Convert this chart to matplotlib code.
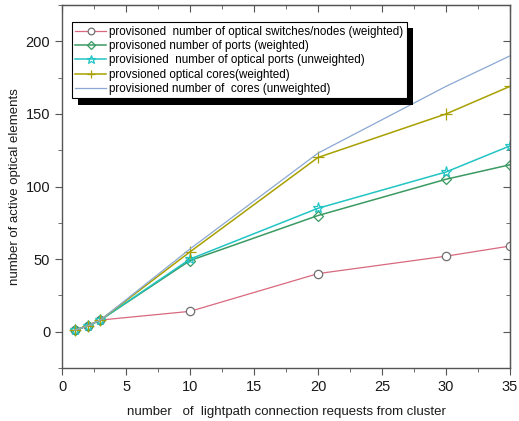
import matplotlib.pyplot as plt
from matplotlib.patches import Shadow
from matplotlib.ticker import MultipleLocator

plt.rcParams['font.family'] = ['Liberation Sans', 'DejaVu Sans']

requests = [1, 2, 3, 10, 20, 30, 35]
switches_w = [1, 4, 8, 14, 40, 52, 59]
ports_w = [1, 4, 8, 49, 80, 105, 115]
ports_uw = [1, 4, 8, 50, 85, 110, 128]
cores_w = [1, 4, 8, 55, 120, 150, 169]
cores_uw = [1, 4, 8, 57, 123, 169, 190]

labels = [
    'provisoned  number of optical switches/nodes (weighted)',
    'provisoned number of ports (weighted)',
    'provisioned  number of optical ports (unweighted)',
    'provsioned optical cores(weighted)',
    'provisioned number of  cores (unweighted)',
]

fig = plt.figure(figsize=(5.19, 4.21), dpi=100)
ax = fig.add_axes([0.1195, 0.126, 0.8632, 0.862])

ax.plot(requests, switches_w, color='#d8687e', lw=0.9, marker='o', ms=6,
        mfc='white', mec='#707070', mew=0.9, label=labels[0])
ax.plot(requests, ports_w, color='#3a9a62', lw=1.1, marker='D', ms=5,
        mfc='none', mec='#3a9a62', mew=0.9, label=labels[1])
ax.plot(requests, ports_uw, color='#22c4c4', lw=1.1, marker='*', ms=8,
        mfc='none', mec='#22c4c4', mew=0.9, label=labels[2])
ax.plot(requests, cores_w, color='#a8a000', lw=1.1, marker='+', ms=8,
        mec='#a8a000', mew=0.9, label=labels[3])
ax.plot(requests, cores_uw, color='#8aa8d4', lw=0.9, label=labels[4])

ax.set_xlim(0, 35)
ax.set_ylim(-25, 225)
ax.xaxis.set_major_locator(MultipleLocator(5))
ax.xaxis.set_minor_locator(MultipleLocator(2.5))
ax.yaxis.set_major_locator(MultipleLocator(50))
ax.yaxis.set_minor_locator(MultipleLocator(25))

gray = '#555555'
for s in ax.spines.values():
    s.set_color(gray)
    s.set_linewidth(1.0)
ax.tick_params(which='both', direction='out', color=gray, labelcolor='#1a1a1a',
               labelsize=10.5)
ax.tick_params(which='major', length=5)
ax.tick_params(which='minor', length=3)

# inward ticks on top and right
top = ax.secondary_xaxis('top')
top.xaxis.set_major_locator(MultipleLocator(5))
top.xaxis.set_minor_locator(MultipleLocator(2.5))
top.tick_params(which='both', direction='in', labeltop=False, color=gray)
top.tick_params(which='major', length=5)
top.tick_params(which='minor', length=3)
right = ax.secondary_yaxis('right')
right.yaxis.set_major_locator(MultipleLocator(50))
right.yaxis.set_minor_locator(MultipleLocator(25))
right.tick_params(which='both', direction='in', labelright=False, color=gray)
right.tick_params(which='major', length=5)
right.tick_params(which='minor', length=3)
for sax in (top, right):
    for s in sax.spines.values():
        s.set_color(gray)

ax.set_xlabel('number   of  lightpath connection requests from cluster',
              fontsize=9.5, color='#1a1a1a', labelpad=9)
ax.set_ylabel('number of active optical elements', fontsize=9.5,
              color='#1a1a1a', labelpad=3)

leg = ax.legend(loc='upper left', bbox_to_anchor=(0.022, 0.953),
                borderaxespad=0, fontsize=8.4, frameon=True, fancybox=False,
                handlelength=2.6, handletextpad=0.3, labelspacing=0.2,
                borderpad=0.3, markerscale=0.8)
leg.get_frame().set_edgecolor('black')
leg.get_frame().set_linewidth(0.8)
leg.get_frame().set_alpha(1)

fig.canvas.draw()
shadow = Shadow(leg.legendPatch, 4.5, -4.5, facecolor='black',
                edgecolor='none', alpha=1)
shadow.set_zorder(leg.get_zorder() - 0.5)
ax.add_artist(shadow)

fig.savefig('out.png', dpi=100)
